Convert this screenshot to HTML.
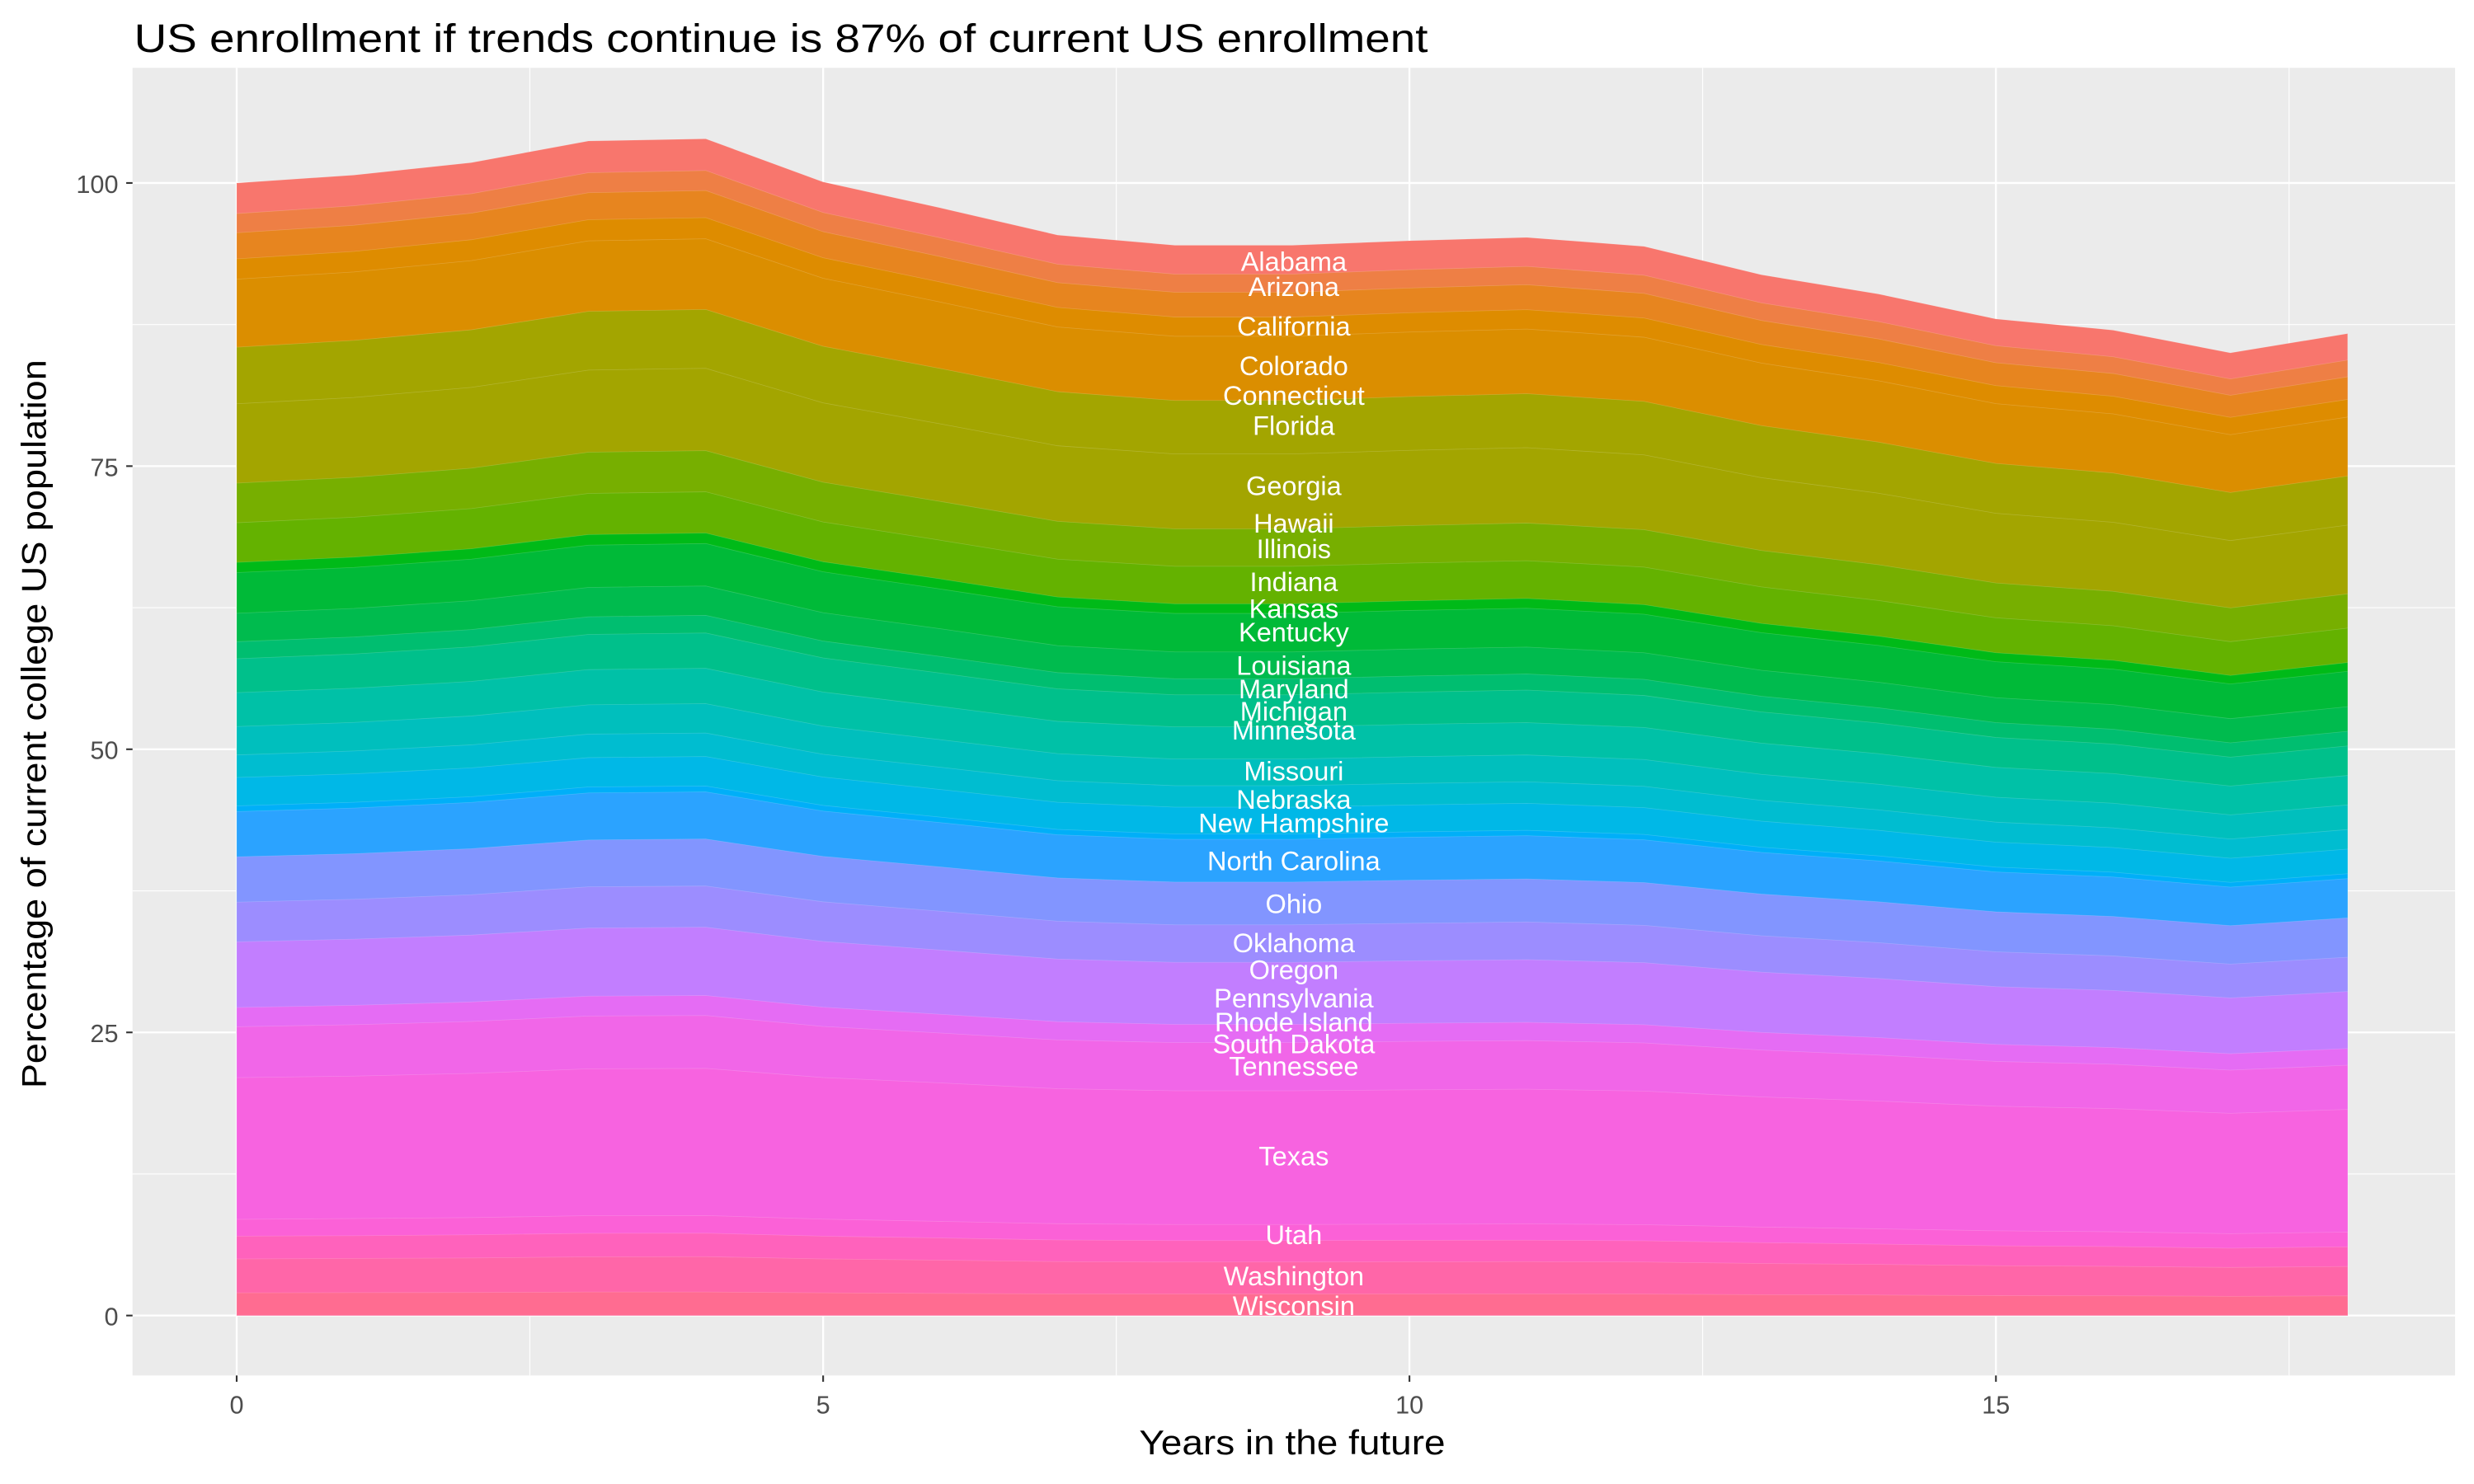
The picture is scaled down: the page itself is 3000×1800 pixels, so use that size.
<!DOCTYPE html>
<html><head><meta charset="utf-8"><style>
html,body{margin:0;padding:0;background:#fff;}
svg{display:block;}
text{font-family:"Liberation Sans",sans-serif;}
</style></head><body>
<svg id="s" width="3000" height="1800" viewBox="0 0 1568 940.8" preserveAspectRatio="none" xmlns="http://www.w3.org/2000/svg">
<rect x="0" y="0" width="1568" height="941" fill="#fff"/>
<rect x="84" y="43" width="1472" height="829" fill="#EBEBEB"/>
<g stroke="#fff" stroke-width="0.6">
<line x1="84" x2="1556" y1="744.25" y2="744.25"/><line x1="84" x2="1556" y1="564.75" y2="564.75"/><line x1="84" x2="1556" y1="385.25" y2="385.25"/><line x1="84" x2="1556" y1="205.75" y2="205.75"/>
<line y1="43" y2="872" x1="335.8" x2="335.8"/><line y1="43" y2="872" x1="707.5" x2="707.5"/><line y1="43" y2="872" x1="1079.1" x2="1079.1"/><line y1="43" y2="872" x1="1450.8" x2="1450.8"/>
</g>
<g stroke="#fff" stroke-width="1.2">
<line x1="84" x2="1556" y1="834" y2="834"/><line x1="84" x2="1556" y1="654.5" y2="654.5"/><line x1="84" x2="1556" y1="475" y2="475"/><line x1="84" x2="1556" y1="295.5" y2="295.5"/><line x1="84" x2="1556" y1="116" y2="116"/>
<line y1="43" y2="872" x1="150" x2="150"/><line y1="43" y2="872" x1="521.7" x2="521.7"/><line y1="43" y2="872" x1="893.3" x2="893.3"/><line y1="43" y2="872" x1="1265" x2="1265"/>
</g>
<g id="bands"></g>
<g fill="#fff" font-size="17" text-anchor="middle" dominant-baseline="central">
<text x="820" y="166">Alabama</text><text x="820" y="182">Arizona</text><text x="820" y="207">California</text><text x="820" y="232">Colorado</text><text x="820" y="251">Connecticut</text><text x="820" y="270">Florida</text><text x="820" y="308">Georgia</text><text x="820" y="332">Hawaii</text><text x="820" y="348">Illinois</text><text x="820" y="369">Indiana</text><text x="820" y="386">Kansas</text><text x="820" y="401">Kentucky</text><text x="820" y="422">Louisiana</text><text x="820" y="437">Maryland</text><text x="820" y="451">Michigan</text><text x="820" y="463">Minnesota</text><text x="820" y="489">Missouri</text><text x="820" y="507">Nebraska</text><text x="820" y="522">New Hampshire</text><text x="820" y="546">North Carolina</text><text x="820" y="573">Ohio</text><text x="820" y="598">Oklahoma</text><text x="820" y="615">Oregon</text><text x="820" y="633">Pennsylvania</text><text x="820" y="648">Rhode Island</text><text x="820" y="662">South Dakota</text><text x="820" y="676">Tennessee</text><text x="820" y="733">Texas</text><text x="820" y="783">Utah</text><text x="820" y="809">Washington</text><text x="820" y="828">Wisconsin</text>
</g>
<g stroke="#333" stroke-width="1.1">
<line x1="80" x2="84" y1="834" y2="834"/><line x1="80" x2="84" y1="654.5" y2="654.5"/><line x1="80" x2="84" y1="475" y2="475"/><line x1="80" x2="84" y1="295.5" y2="295.5"/><line x1="80" x2="84" y1="116" y2="116"/>
<line y1="872" y2="876" x1="150" x2="150"/><line y1="872" y2="876" x1="521.7" x2="521.7"/><line y1="872" y2="876" x1="893.3" x2="893.3"/><line y1="872" y2="876" x1="1265" x2="1265"/>
</g>
<g fill="#4D4D4D" font-size="16" text-anchor="end" dominant-baseline="central">
<text x="75" y="835">0</text><text x="75" y="655.5">25</text><text x="75" y="476">50</text><text x="75" y="296.5">75</text><text x="75" y="117">100</text>
</g>
<g fill="#4D4D4D" font-size="16" text-anchor="middle">
<text x="150" y="896">0</text><text x="521.7" y="896">5</text><text x="893.3" y="896">10</text><text x="1265" y="896">15</text>
</g>
<text x="722" y="922" font-size="22" fill="#000" textLength="194" lengthAdjust="spacingAndGlyphs">Years in the future</text>
<text transform="translate(29,690) rotate(-90)" font-size="22" fill="#000" textLength="462" lengthAdjust="spacingAndGlyphs">Percentage of current college US population</text>
<text x="85" y="33" font-size="25" fill="#000" textLength="820" lengthAdjust="spacingAndGlyphs">US enrollment if trends continue is 87% of current US enrollment</text>
</svg>
<script>
var tot=[100,100.7,101.8,103.7,103.9,100.1,97.8,95.4,94.5,94.5,94.9,95.2,94.4,91.9,90.2,88.0,87.0,85.0,86.7];
var B=[[100,'#F8766D'],[97.3,'#EE7F45'],[95.6,'#E7851F'],[93.3,'#DE8C00'],[91.5,'#DB8E00'],[85.5,'#A3A500'],[80.5,'#A3A500'],[73.5,'#77AF00'],[70,'#64B200'],[66.5,'#00BA18'],[65.6,'#00BA38'],[62,'#00BB4E'],[59.5,'#00BE70'],[58,'#00C08B'],[55,'#00C1A7'],[52,'#00BFBD'],[49.5,'#00BDD0'],[47.5,'#00B8E7'],[45,'#00AFF8'],[44.5,'#2BA3FF'],[40.5,'#8295FF'],[36.5,'#9C8DFF'],[33,'#C27EFF'],[27.2,'#E56CF4'],[25.5,'#F166E8'],[21,'#F763E0'],[8.5,'#FB61D7'],[7,'#FF62BC'],[5,'#FF66A8'],[2,'#FF6C91']];
var g=document.getElementById('bands'),ns='http://www.w3.org/2000/svg';
B.forEach(function(b){
 var p=[];
 for(var t=0;t<19;t++){p.push((150+74.33*t).toFixed(1)+','+(834-7.18*b[0]*tot[t]/100).toFixed(1));}
 p.push('1488,834','150,834');
 var e=document.createElementNS(ns,'polygon');
 e.setAttribute('points',p.join(' '));e.setAttribute('fill',b[1]);
 e.setAttribute('stroke','rgba(255,255,255,0.18)');e.setAttribute('stroke-width','0.4');
 g.appendChild(e);
});
</script>
</body></html>
